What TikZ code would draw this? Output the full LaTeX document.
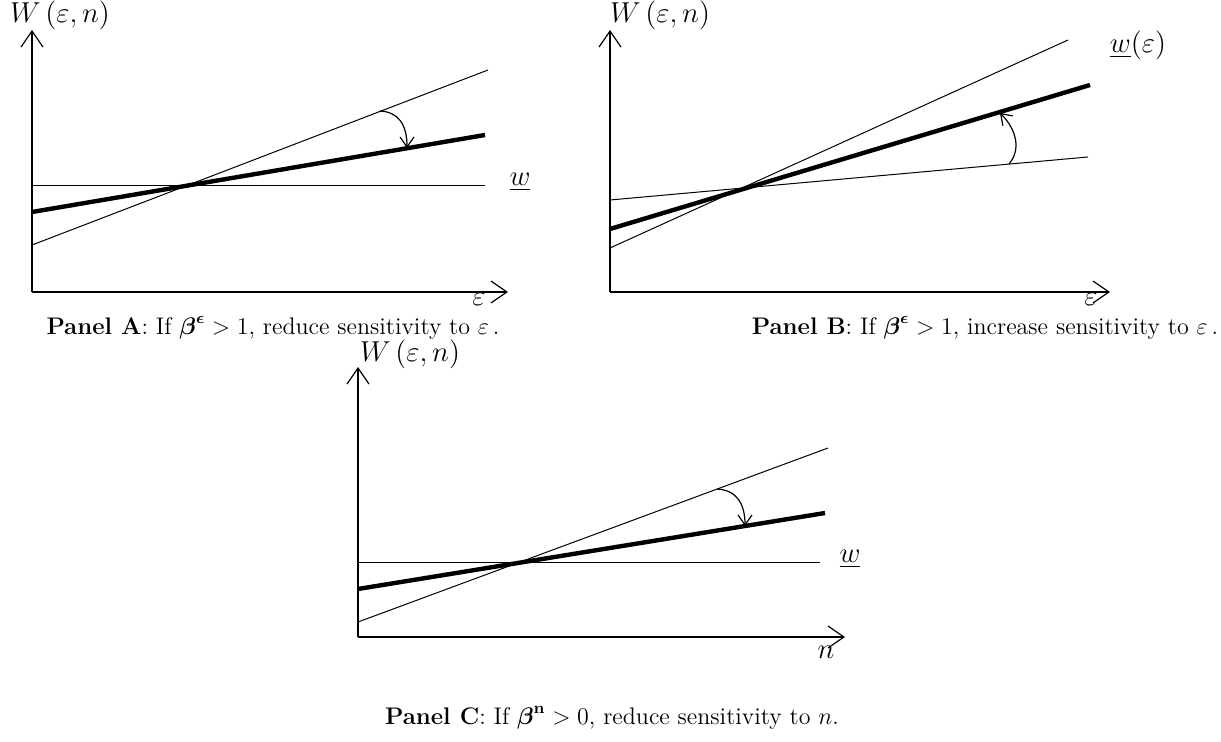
\documentclass[tikz,border=0pt]{standalone}
\usepackage{amsmath, amssymb}
\usetikzlibrary{arrows.meta, positioning}
\tikzset{
  asse/.style={line width=0.6pt, -{Straight Barb[length=8pt,width=11pt]}},
  retta/.style={line width=0.5pt},
  rettaspessa/.style={line width=2.2pt},
  freccia/.style={line width=0.6pt, -{Straight Barb[length=5pt,width=7pt]}},
  etichetta/.style={font=\Large, inner sep=1pt},
  piccola/.style={font=\Large, inner sep=0pt},
  didascalia/.style={font=\large, inner sep=0pt}
}
\begin{document}
\begin{tikzpicture}[x=0.5pt, y=-0.5pt]
        \useasboundingbox (0,0) rectangle (1221,742);
        %%%% pannello A
        %disegno assi
        \draw[asse] (32,292)-- (32,30);
        \draw[asse] (32,292)-- (508,292);
        \node[etichetta] (WA) at (60,15) {$W\left(\varepsilon,n\right)$};
        \node[piccola] (epsA) at (479,299) {$\varepsilon$};
        %disegno rette
        \draw[retta] (32,186)-- (485,186);
        \node[etichetta] (wA) at (520,182) {$\underline{w}$};
        \draw[retta] (32,245)-- (488,70);
        \draw[rettaspessa] (32,212)-- (485,135);
        \draw[freccia] (380,111) .. controls (398,112) and (407,124) .. (407,148);
        \node[didascalia] (capA) at (273,328) {\textbf{Panel A}: If $\boldsymbol{\beta}^{\boldsymbol{\epsilon}}>1$, reduce sensitivity to $\varepsilon$\,.};
        %%%% pannello B
        %disegno assi
        \draw[asse] (610,292)-- (610,30);
        \draw[asse] (610,292)-- (1110,292);
        \node[etichetta] (WB) at (660,15) {$W\left(\varepsilon,n\right)$};
        \node[piccola] (epsB) at (1091,299) {$\varepsilon$};
        %disegno rette
        \draw[retta] (610,248)-- (1068,40);
        \node[etichetta] (wB) at (1138,45) {$\underline{w}(\varepsilon)$};
        \draw[rettaspessa] (610,229)-- (1090,85);
        \draw[retta] (610,200)-- (1088,157);
        \draw[freccia] (1009,164) .. controls (1021,150) and (1017,130) .. (1000,113);
        \node[didascalia] (capB) at (985,328) {\textbf{Panel B}: If $\boldsymbol{\beta}^{\boldsymbol{\epsilon}}>1$, increase sensitivity to $\varepsilon$\,.};
        %%%% pannello C
        %disegno assi
        \draw[asse] (358,637)-- (358,367);
        \draw[asse] (358,637)-- (845,637);
        \node[etichetta] (WC) at (410,354) {$W\left(\varepsilon,n\right)$};
        \node[etichetta] (nC) at (826,652) {$n$};
        %disegno rette
        \draw[retta] (358,563)-- (820,563);
        \node[etichetta] (wC) at (850,559) {$\underline{w}$};
        \draw[retta] (358,622)-- (828,448);
        \draw[rettaspessa] (358,589)-- (825,513);
        \draw[freccia] (717,489) .. controls (736,490) and (745,503) .. (745,526);
        \node[didascalia] (capC) at (612,718) {\textbf{Panel C}: If $\boldsymbol{\beta}^{\mathbf{n}}>0$, reduce sensitivity to $n$.};
\end{tikzpicture}
\end{document}
